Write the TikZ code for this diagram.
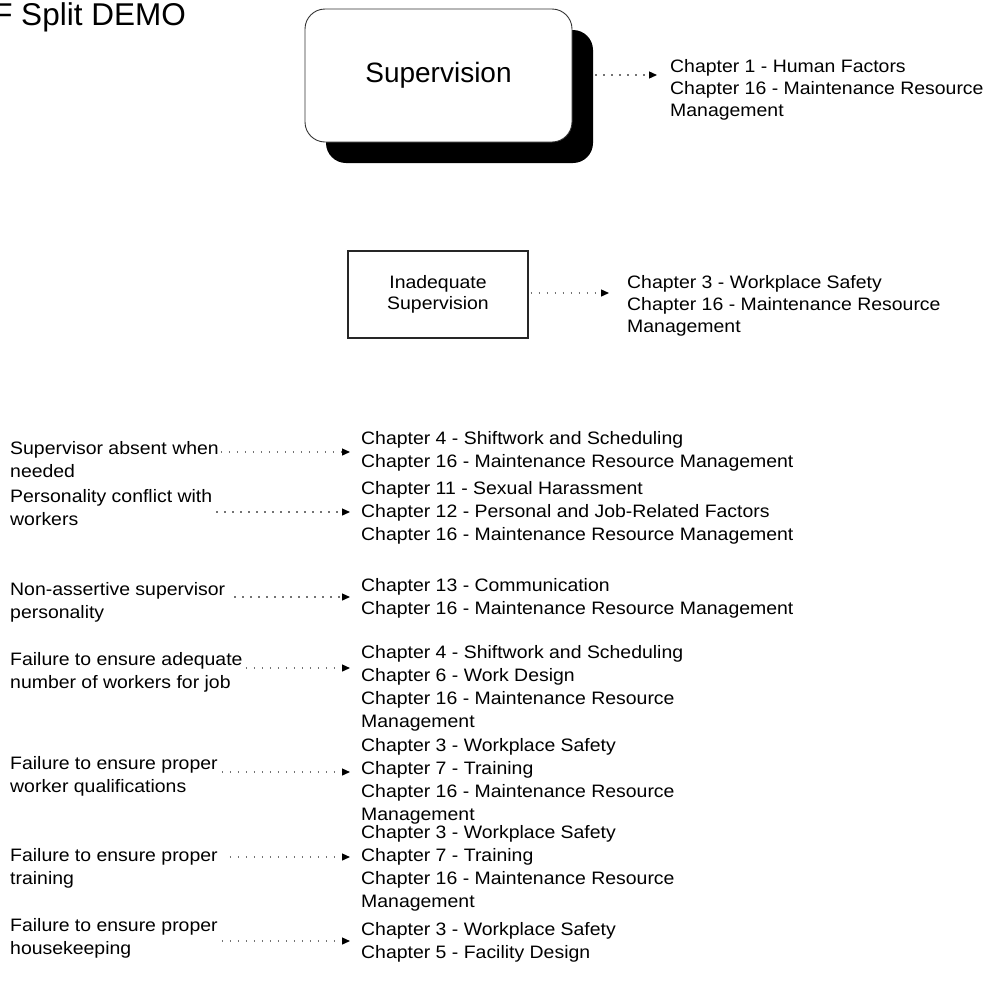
\documentclass[tikz,border=0pt]{standalone}
\usepackage{fontspec}
\setmainfont{Liberation Sans}[FakeStretch=1.08]
\newfontfamily\headfont{Liberation Sans}
\usetikzlibrary{arrows.meta,shadows}

\begin{document}
\begin{tikzpicture}[x=1pt,y=-1pt,
  % multi-line texts are placed by the baseline of their last line
  txt/.style={inner sep=0pt, anchor=base west, align=left,
    font=\fontsize{18}{23}\selectfont},
  toptxt/.style={txt, font=\fontsize{18}{22}\selectfont},
  conn/.style={draw=black!55, line width=1.3pt, dash pattern=on 1.4pt off 6.6pt,
    -{Triangle[length=8pt,width=7pt,color=black]}},
]
\useasboundingbox (0,0) rectangle (987,983);

% watermark at the top left, cut by the page edge
\begin{scope}
  \clip (0,0) rectangle (987,983);
  \node[inner sep=0pt, anchor=base east, font=\headfont\fontsize{31.5}{33}\selectfont]
    (demo) at (186,25) {PDF Split DEMO};
\end{scope}

% top level: rounded box with a solid drop shadow
\node[draw=black!80, line width=0.9pt, rounded corners=20pt, fill=white,
  minimum width=267pt, minimum height=133pt,
  drop shadow={shadow xshift=21pt, shadow yshift=-21pt, opacity=1, fill=black},
  font=\headfont\fontsize{28}{30}\selectfont] (sup) at (438.5,75.5) {Supervision};
\node[toptxt] (chsup) at (670,116.5)
  {Chapter 1 - Human Factors\\Chapter 16 - Maintenance Resource\\Management};
\coordinate (ysup) at (0,75);
\draw[conn] ([xshift=23pt]sup.east |- ysup) -- ([xshift=-13pt]chsup.west |- ysup);

% second level
\node[draw=black!85, line width=1.3pt, minimum width=180pt, minimum height=87pt,
  align=center, inner sep=0pt, font=\fontsize{18}{21}\selectfont]
  (inad) at (438,294.5) {Inadequate\\Supervision};
\node[toptxt] (chinad) at (627,332.5)
  {Chapter 3 - Workplace Safety\\Chapter 16 - Maintenance Resource\\Management};
\coordinate (yinad) at (0,293);
\draw[conn] ([xshift=2pt]inad.east |- yinad) -- ([xshift=-18pt]chinad.west |- yinad);

% causes and the chapters that cover them
\node[txt] (l1) at (10,477.5) {Supervisor absent when\\needed};
\node[txt] (r1) at (361,467.5)
  {Chapter 4 - Shiftwork and Scheduling\\Chapter 16 - Maintenance Resource Management};
\coordinate (y1) at (0,452);
\draw[conn] ([xshift=2pt]l1.east |- y1) -- ([xshift=-11pt]r1.west |- y1);

\node[txt] (l2) at (10,525.5) {Personality conflict with\\workers};
\node[txt] (r2) at (361,540.5)
  {Chapter 11 - Sexual Harassment\\Chapter 12 - Personal and Job-Related Factors\\Chapter 16 - Maintenance Resource Management};
\coordinate (y2) at (0,512);
\draw[conn] ([xshift=4pt]l2.east |- y2) -- ([xshift=-11pt]r2.west |- y2);

\node[txt] (l3) at (10,618.5) {Non-assertive supervisor\\personality};
\node[txt] (r3) at (361,614.5)
  {Chapter 13 - Communication\\Chapter 16 - Maintenance Resource Management};
\coordinate (y3) at (0,597);
\draw[conn] ([xshift=9pt]l3.east |- y3) -- ([xshift=-11pt]r3.west |- y3);

\node[txt] (l4) at (10,688.5) {Failure to ensure adequate\\number of workers for job};
\node[txt] (r4) at (361,727.5)
  {Chapter 4 - Shiftwork and Scheduling\\Chapter 6 - Work Design\\Chapter 16 - Maintenance Resource\\Management};
\coordinate (y4) at (0,668);
\draw[conn] ([xshift=3pt]l4.east |- y4) -- ([xshift=-11pt]r4.west |- y4);

\node[txt] (l5) at (10,792.5) {Failure to ensure proper\\worker qualifications};
\node[txt] (r5) at (361,820.5)
  {Chapter 3 - Workplace Safety\\Chapter 7 - Training\\Chapter 16 - Maintenance Resource\\Management};
\coordinate (y5) at (0,772);
\draw[conn] ([xshift=4pt]l5.east |- y5) -- ([xshift=-11pt]r5.west |- y5);

\node[txt] (l6) at (10,884.5) {Failure to ensure proper\\training};
\node[txt] (r6) at (361,907.5)
  {Chapter 3 - Workplace Safety\\Chapter 7 - Training\\Chapter 16 - Maintenance Resource\\Management};
\coordinate (y6) at (0,857);
\draw[conn] ([xshift=12pt]l6.east |- y6) -- ([xshift=-11pt]r6.west |- y6);

\node[txt] (l7) at (10,954.5) {Failure to ensure proper\\housekeeping};
\node[txt] (r7) at (361,958.5)
  {Chapter 3 - Workplace Safety\\Chapter 5 - Facility Design};
\coordinate (y7) at (0,941);
\draw[conn] ([xshift=4pt]l7.east |- y7) -- ([xshift=-11pt]r7.west |- y7);
\end{tikzpicture}
\end{document}
